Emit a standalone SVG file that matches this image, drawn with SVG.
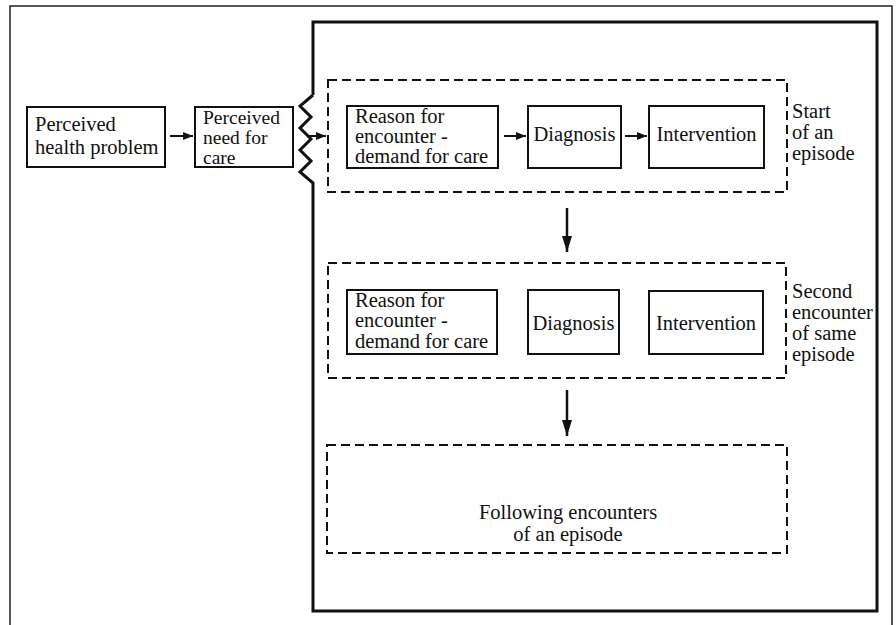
<svg xmlns="http://www.w3.org/2000/svg" width="896" height="625" viewBox="0 0 896 625">
<style>
text{font-family:"Liberation Serif","Times New Roman",serif;font-size:20.5px;fill:#111}
.tight{font-size:19.5px}
.box{fill:#fff;stroke:#111;stroke-width:2}
.dash{fill:none;stroke:#111;stroke-width:2;stroke-dasharray:9 5}
.ln{fill:none;stroke:#111;stroke-width:2}
.lnd{fill:none;stroke:#111;stroke-width:2.5}
.mid{text-anchor:middle}
</style>
<defs>
<marker id="ah" viewBox="0 0 10 8" refX="10" refY="4" markerWidth="10" markerHeight="8" markerUnits="userSpaceOnUse" orient="auto">
<path d="M0,0 L10,4 L0,8 Z" fill="#111"/>
</marker>
<marker id="ahd" viewBox="0 0 16 10" refX="16" refY="5" markerWidth="16" markerHeight="10" markerUnits="userSpaceOnUse" orient="auto">
<path d="M0,0 L16,5 L0,10 Z" fill="#111"/>
</marker>
</defs>
<rect width="896" height="625" fill="#fff"/>
<g id="outer-frame">
<path d="M10,630 L10,6 L892,6 L892,630" fill="none" stroke="#222" stroke-width="1.5"/>
</g>
<g id="inner-frame">
<path d="M313,95 L313,22 L877,22 L877,611 L313,611 L313,183 L300,172 L311,161 L300,150 L311,139 L300,128 L311,117 L300,106 L313,95" fill="none" stroke="#111" stroke-width="3" stroke-linejoin="miter"/>
</g>
<g id="perceived-health-problem">
<rect class="box" x="27" y="107" width="138" height="60"/>
<text x="35" y="131">Perceived</text>
<text x="35" y="154">health problem</text>
</g>
<g id="perceived-need">
<rect class="box" x="195" y="107" width="98" height="60"/>
<text class="tight" x="203" y="124">Perceived</text>
<text class="tight" x="203" y="144">need  for</text>
<text class="tight" x="203" y="164">care</text>
</g>
<g id="episode-start">
<rect class="dash" x="328" y="80" width="459" height="112"/>
<text x="792" y="118">Start</text>
<text x="792" y="139">of an</text>
<text x="792" y="160">episode</text>
</g>
<g id="reason-1">
<rect class="box" x="347" y="106" width="151" height="62"/>
<text x="355" y="123">Reason for</text>
<text x="355" y="143">encounter -</text>
<text x="355" y="163">demand for care</text>
</g>
<g id="diagnosis-1">
<rect class="box" x="528" y="106" width="93" height="62"/>
<text class="mid" x="574.5" y="141">Diagnosis</text>
</g>
<g id="intervention-1">
<rect class="box" x="649" y="106" width="115" height="62"/>
<text class="mid" x="706.5" y="141">Intervention</text>
</g>
<g id="episode-second">
<rect class="dash" x="328" y="263" width="458" height="115"/>
<text x="792" y="298">Second</text>
<text x="792" y="319">encounter</text>
<text x="792" y="340">of same</text>
<text x="792" y="361">episode</text>
</g>
<g id="reason-2">
<rect class="box" x="347" y="290" width="150" height="64"/>
<text x="355" y="307">Reason for</text>
<text x="355" y="327">encounter -</text>
<text x="355" y="348">demand for care</text>
</g>
<g id="diagnosis-2">
<rect class="box" x="528" y="290" width="91" height="64"/>
<text class="mid" x="573.5" y="330">Diagnosis</text>
</g>
<g id="intervention-2">
<rect class="box" x="649" y="291" width="114" height="63"/>
<text class="mid" x="706" y="330">Intervention</text>
</g>
<g id="episode-following">
<rect class="dash" x="327" y="445" width="460" height="108"/>
<text class="mid" x="568" y="519">Following encounters</text>
<text class="mid" x="568" y="541">of an episode</text>
</g>
<g id="connectors">
<line class="ln" x1="170" y1="136" x2="193" y2="136" marker-end="url(#ah)"/>
<line class="ln" x1="307" y1="136" x2="326" y2="136" marker-end="url(#ah)"/>
<line class="ln" x1="504" y1="136" x2="526" y2="136" marker-end="url(#ah)"/>
<line class="ln" x1="625" y1="136" x2="647" y2="136" marker-end="url(#ah)"/>
<line class="lnd" x1="567" y1="208" x2="567" y2="252" marker-end="url(#ahd)"/>
<line class="lnd" x1="567" y1="390" x2="567" y2="436" marker-end="url(#ahd)"/>
</g>
</svg>
